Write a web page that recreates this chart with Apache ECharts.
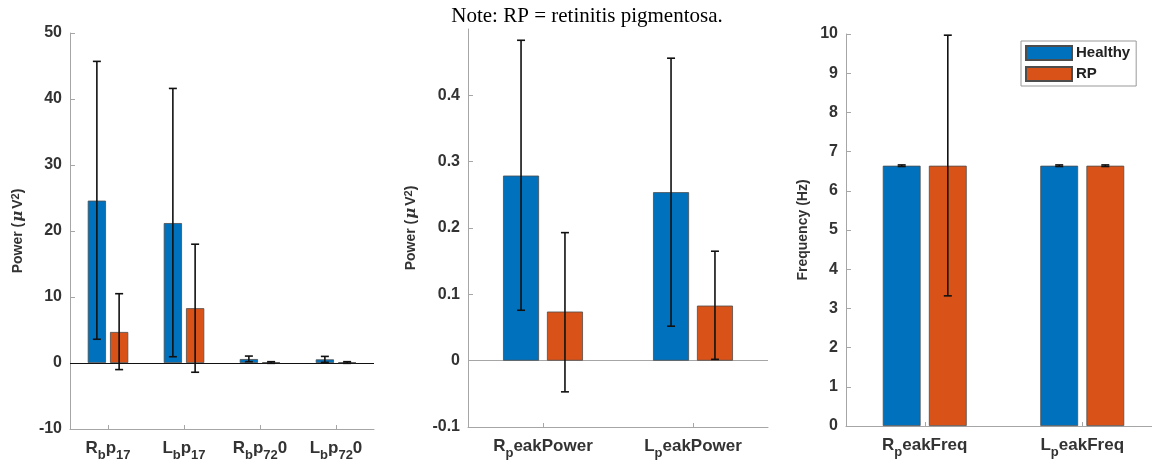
<!DOCTYPE html>
<html><head><meta charset="utf-8">
<script src="https://cdn.jsdelivr.net/npm/echarts@6/dist/echarts.min.js"></script>
<style>html,body{margin:0;padding:0;background:#fff;overflow:hidden}#c{width:1175px;height:464px}</style>
</head><body><div id="c"></div>
<script>
// ---- Data ----
const labelsA = ['{m|R}{s|b}{m|p}{s|17}', '{m|L}{s|b}{m|p}{s|17}', '{m|R}{s|b}{m|p}{s|72}{m|0}', '{m|L}{s|b}{m|p}{s|72}{m|0}'];
const healthyA = [24.6, 21.2, 0.6, 0.55];
const healthyLowA = [3.6, 0.95, 0.2, 0.1];
const healthyHighA = [45.7, 41.6, 1.05, 1.0];
const rpA = [4.7, 8.3, 0.1, 0.1];
const rpLowA = [-1.0, -1.4, -0.05, -0.05];
const rpHighA = [10.5, 18.0, 0.2, 0.2];

const labelsB = ['{m|R}{s|p}{m|eakPower}', '{m|L}{s|p}{m|eakPower}'];
const healthyB = [0.279, 0.254];
const healthyLowB = [0.076, 0.052];
const healthyHighB = [0.483, 0.456];
const rpB = [0.074, 0.083];
const rpLowB = [-0.047, 0.002];
const rpHighB = [0.193, 0.165];

const labelsC = ['{m|R}{s|p}{m|eakFreq}', '{m|L}{s|p}{m|eakFreq}'];
const healthyC = [6.64, 6.64];
const healthyLowC = [6.62, 6.62];
const healthyHighC = [6.66, 6.66];
const rpC = [6.64, 6.64];
const rpLowC = [3.32, 6.62];
const rpHighC = [9.97, 6.66];

const seriesNames = ['Healthy', 'RP'];
const noteText = 'Note: RP = retinitis pigmentosa.';

// ---- Styles ----
const BLUE = '#0072BD', ORANGE = '#D95319';
const AX = '#a6a6a6', TXT = '#333';
const FONT = '"Liberation Sans", Arial, sans-serif';
const BW = '24%', BG = '22%', OFF = 0.1464;

const rich = {
  m: {fontSize: 17, fontWeight: 'bold', color: TXT, fontFamily: FONT, lineHeight: 19, verticalAlign: 'top'},
  s: {fontSize: 13, fontWeight: 'bold', color: TXT, fontFamily: FONT, lineHeight: 13, padding: [9, 0, 0, 0], verticalAlign: 'top'}
};

function xAxis(idx, labels) {
  return {
    type: 'category', gridIndex: idx, data: labels,
    axisLine: {show: true, onZero: false, lineStyle: {color: AX, width: 1}},
    axisTick: {show: true, inside: true, alignWithLabel: true, length: 4, lineStyle: {color: AX}},
    axisLabel: {margin: 11, interval: 0, rich: rich, formatter: v => v},
    splitLine: {show: false}
  };
}
function yAxis(idx, min, max, interval, name, gap, hideMax) {
  return {
    type: 'value', gridIndex: idx, min: min, max: max, interval: interval,
    name: name, nameLocation: 'middle', nameGap: gap, nameRotate: 90,
    nameTextStyle: {fontSize: 14, fontWeight: 'bold', color: TXT, fontFamily: FONT, rich: {
      sup: {fontSize: 11, fontWeight: 'bold', color: TXT, fontFamily: FONT, verticalAlign: 'top', padding: [0,0,6,0]},
      mu: {fontSize: 15, fontStyle: 'italic', color: TXT, fontFamily: 'DejaVu Serif, serif', padding: [0, 2, 0, 1]}
    }},
    axisLine: {show: true, lineStyle: {color: AX, width: 1}},
    axisTick: {show: true, inside: true, length: 5, lineStyle: {color: AX}},
    axisLabel: {fontSize: 16, fontWeight: 'bold', color: TXT, fontFamily: FONT, margin: 8, showMaxLabel: !hideMax},
    splitLine: {show: false}
  };
}
function bars(idx, name, vals, color, zeroLine) {
  const s = {
    type: 'bar', name: name, xAxisIndex: idx, yAxisIndex: idx, data: vals,
    barWidth: BW, barGap: BG,
    itemStyle: {color: color, borderColor: '#4d4d4d', borderWidth: 0.8},
    z: 2
  };
  if (zeroLine) {
    s.markLine = {silent: true, symbol: 'none', label: {show: false},
      lineStyle: {color: zeroLine, width: 1, type: 'solid'}, data: [{yAxis: 0}], z: 1};
  }
  return s;
}
function errs(idx, name, low, high, side) {
  return {
    type: 'custom', name: name + '-err', xAxisIndex: idx, yAxisIndex: idx, z: 10,
    data: low.map((l, i) => [i, l, high[i]]),
    encode: {x: 0, y: [1, 2]},
    renderItem: function (params, api) {
      const i = api.value(0);
      const lo = api.coord([i, api.value(1)]);
      const hi = api.coord([i, api.value(2)]);
      const band = api.size([1, 0])[0];
      const x = lo[0] + side * OFF * band;
      const c = 4;
      const st = {stroke: '#111', lineWidth: 1.6};
      return {type: 'group', children: [
        {type: 'line', shape: {x1: x, y1: lo[1], x2: x, y2: hi[1]}, style: st},
        {type: 'line', shape: {x1: x - c, y1: lo[1], x2: x + c, y2: lo[1]}, style: st},
        {type: 'line', shape: {x1: x - c, y1: hi[1], x2: x + c, y2: hi[1]}, style: st}
      ]};
    }
  };
}

const powerName = 'Power ({mu|μ}V{sup|2})';

const option = {
  animation: false,
  backgroundColor: '#fff',
  title: {text: noteText, left: 582, top: 1, textAlign: 'center',
    textStyle: {fontFamily: '"Liberation Serif", "Times New Roman", serif', fontSize: 21, fontWeight: 'normal', color: '#000'}},
  legend: {
    data: seriesNames, orient: 'vertical', left: 1021, top: 41,
    itemWidth: 46, itemHeight: 14, itemGap: 5, padding: [4, 6, 4, 4],
    borderColor: '#999', borderWidth: 1, backgroundColor: '#fff',
    icon: 'rect',
    textStyle: {fontSize: 15, fontWeight: 'bold', color: '#222', fontFamily: FONT, padding: [0, 0, 0, -1]}
  },
  grid: [
    {left: 70, top: 33, width: 304, bottom: 35},
    {left: 468, top: 29, width: 300, bottom: 37},
    {left: 846, top: 34, width: 315, bottom: 38}
  ],
  xAxis: [xAxis(0, labelsA), xAxis(1, labelsB), xAxis(2, labelsC)],
  yAxis: [
    yAxis(0, -10, 50, 10, powerName, 43, false),
    yAxis(1, -0.1, 0.5, 0.1, powerName, 48, true),
    yAxis(2, 0, 10, 1, 'Frequency (Hz)', 36, false)
  ],
  series: [
    bars(0, seriesNames[0], healthyA, BLUE, '#111'),
    bars(0, seriesNames[1], rpA, ORANGE),
    errs(0, seriesNames[0], healthyLowA, healthyHighA, -1),
    errs(0, seriesNames[1], rpLowA, rpHighA, 1),
    bars(1, seriesNames[0], healthyB, BLUE, '#a6a6a6'),
    bars(1, seriesNames[1], rpB, ORANGE),
    errs(1, seriesNames[0], healthyLowB, healthyHighB, -1),
    errs(1, seriesNames[1], rpLowB, rpHighB, 1),
    bars(2, seriesNames[0], healthyC, BLUE),
    bars(2, seriesNames[1], rpC, ORANGE),
    errs(2, seriesNames[0], healthyLowC, healthyHighC, -1),
    errs(2, seriesNames[1], rpLowC, rpHighC, 1)
  ]
};
const chart = echarts.init(document.getElementById('c'), null, {renderer: 'canvas'});
chart.setOption(option);
</script>
</body></html>
